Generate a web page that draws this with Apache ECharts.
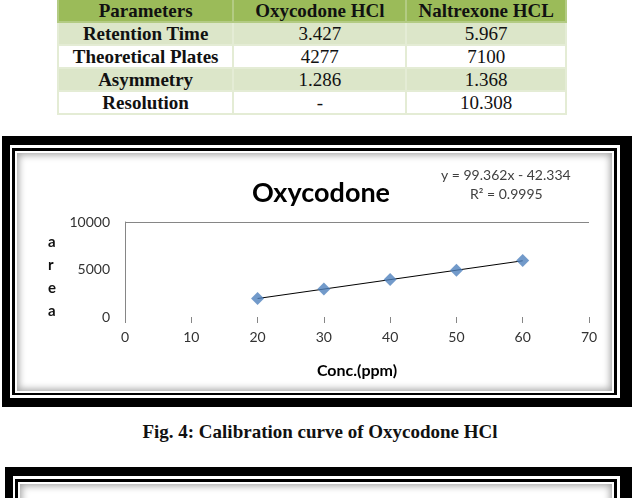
<!DOCTYPE html>
<html>
<head>
<meta charset="utf-8">
<script src="https://cdn.jsdelivr.net/npm/echarts@6/dist/echarts.min.js"></script>
<style>
  body { margin: 0; width: 632px; height: 498px; overflow: hidden; background: #fff; position: relative; }
  .tbl { position: absolute; left: 57px; top: -2px; width: 510px; border-collapse: collapse;
    font-family: "Liberation Serif", serif; font-size: 19px; color: #111; }
  .tbl td { height: 21px; padding: 0; text-align: center; border: 2px solid #e4ecd5; line-height: 19px; }
  .tbl tr.head td { background: #9bbb59; font-weight: bold; height: 21px; border-color: #b3cb83; }
  .tbl tr.odd td { background: #dce6c9; }
  .tbl tr.even td { background: #fff; }
  .tbl td.name { font-weight: bold; }
  .frame { position: absolute; background: #000; }
  .frame .l1 { position: absolute; left: 8px; top: 9px; right: 12px; bottom: 9px; background: #fff; }
  .frame .l2 { position: absolute; left: 2px; top: 3px; right: 3px; bottom: 3px; background: #000; }
  .frame .l3 { position: absolute; left: 3px; top: 3px; right: 3px; bottom: 2px; background: #fff;
    box-shadow: inset 0 0 0 2px #fff, inset 0 0 7px 4px rgba(0,0,0,0.35); }
  .caption { position: absolute; left: 0; width: 640px; top: 421px; text-align: center;
    font-family: "Liberation Serif", serif; font-weight: bold; font-size: 19px; color: #111; }
  #chart { position: absolute; left: 0; top: 0; width: 632px; height: 498px; z-index: 2; }
</style>
</head>
<body>
<table class="tbl" id="tbl"></table>

<div class="frame" style="left:2px;top:136px;width:630px;height:271px;">
  <div class="l1"><div class="l2"><div class="l3"></div></div></div>
</div>
<div class="caption">Fig. 4: Calibration curve of Oxycodone HCl</div>
<div class="frame" style="left:5px;top:467px;width:627px;height:60px;">
  <div class="l1" style="bottom:-20px"><div class="l2"><div class="l3"></div></div></div>
</div>

<div id="chart"></div>
<script>
// table
const tableHead = ['Parameters', 'Oxycodone HCl', 'Naltrexone HCL']
const paramNames = ['Retention Time', 'Theoretical Plates', 'Asymmetry', 'Resolution']
const oxyValues = ['3.427', '4277', '1.286', '-']
const nalValues = ['5.967', '7100', '1.368', '10.308']

// calibration data
const concX = [20, 30, 40, 50, 60]
const areaY = [1950, 2960, 3960, 4930, 5940]
// linear trendline ends (y = 99.362x - 42.334)
const trendX = [20, 60]
const trendY = [1945, 5919]
const eqText = 'y = 99.362x - 42.334'
const r2Text = 'R² = 0.9995'

// build table
const tbl = document.getElementById('tbl')
let html = '<tr class="head">' + tableHead.map(h => '<td>' + h + '</td>').join('') + '</tr>'
for (let i = 0; i < paramNames.length; i++) {
  html += '<tr class="' + (i % 2 === 0 ? 'odd' : 'even') + '">' +
    '<td class="name">' + paramNames[i] + '</td><td>' + oxyValues[i] + '</td><td>' + nalValues[i] + '</td></tr>'
}
tbl.innerHTML = html
const colW = [176, 174, 160]
for (let c = 0; c < 3; c++) tbl.rows[0].cells[c].style.width = colW[c] + 'px'

const myChart = echarts.init(document.getElementById('chart'))
const option = {
  animation: false,
  backgroundColor: 'transparent',
  textStyle: { fontFamily: 'Lato' },
  title: {
    text: 'Oxycodone',
    left: 316,
    top: 175,
    textAlign: 'center',
    textStyle: { fontFamily: 'Lato', fontSize: 27, fontWeight: 'bold', color: '#000' }
  },
  graphic: [
    { type: 'text', left: 441, top: 168, style: { text: eqText, fontFamily: 'Lato', fontSize: 14, fill: '#404040' } },
    { type: 'text', left: 470, top: 187, style: { text: r2Text, fontFamily: 'Lato', fontSize: 14, fill: '#404040' } },
    // y axis title, one letter per line
    { type: 'text', left: 48, top: 231, style: { text: 'a\nr\ne\na', fontFamily: 'Lato', fontSize: 15, fontWeight: 'bold', fill: '#111', lineHeight: 23, align: 'center' } }
  ],
  grid: { left: 125, right: 43, top: 222, bottom: 181, containLabel: false },
  xAxis: {
    type: 'value',
    min: 0,
    max: 70,
    interval: 10,
    name: 'Conc.(ppm)',
    nameLocation: 'middle',
    nameGap: 46,
    nameTextStyle: { fontFamily: 'Lato', fontSize: 16, fontWeight: 'bold', color: '#000' },
    axisLine: { show: false },
    axisTick: { show: true, inside: false, length: 6, lineStyle: { color: '#868686' } },
    axisLabel: { margin: 13, fontSize: 14, color: '#333', fontFamily: 'Lato' },
    splitLine: { show: false }
  },
  yAxis: {
    type: 'value',
    min: 0,
    max: 10000,
    interval: 5000,
    axisLine: { show: true, onZero: false, lineStyle: { color: '#868686' } },
    axisTick: { show: false },
    axisLabel: { margin: 15, fontSize: 14, color: '#333', fontFamily: 'Lato', formatter: v => String(v) },
    splitLine: { show: true, lineStyle: { color: ['transparent', 'transparent', '#868686'] } }
  },
  series: [
    {
      type: 'line',
      data: trendX.map((x, i) => [x, trendY[i]]),
      symbol: 'none',
      lineStyle: { color: '#000', width: 1 },
      z: 2
    },
    {
      type: 'scatter',
      data: concX.map((x, i) => [x, areaY[i]]),
      symbol: 'diamond',
      symbolSize: 13,
      itemStyle: { color: '#4f81bd' },
      z: 3
    }
  ]
}
myChart.setOption(option)
</script>
</body>
</html>
